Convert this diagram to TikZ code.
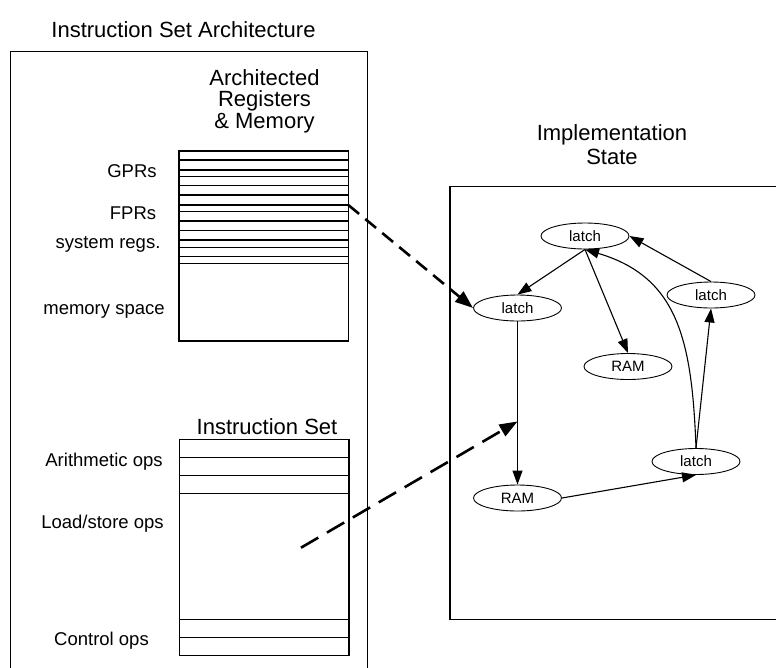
\documentclass[tikz,border=0pt]{standalone}
\usepackage{fontspec}
\setmainfont{Liberation Sans}
\usetikzlibrary{arrows.meta,calc,shapes.geometric}
\begin{document}
\begin{tikzpicture}[x=1pt,y=-1pt,
  ttl/.style={font=\fontsize{22}{24}\selectfont, inner sep=0pt, anchor=base},
  lbl/.style={font=\fontsize{18.5}{20}\selectfont, inner sep=0pt, anchor=base},
  st/.style={draw, ellipse, minimum width=88pt, minimum height=26pt, inner sep=0pt, line width=0.9pt, font=\fontsize{15}{16}\selectfont},
  box/.style={line width=1.3pt},
  reg/.style={line width=1.5pt},
  arr/.style={line width=1.1pt, -{Triangle[length=14pt,width=10pt]}},
  darr/.style={line width=2.6pt, dash pattern=on 14pt off 8pt, -{Triangle[length=18pt,width=13pt]}},
  darrb/.style={line width=2.6pt, dash pattern=on 20pt off 10pt, -{Triangle[length=18pt,width=13pt]}}
]
\path[use as bounding box] (0,0) rectangle (776,667);
\clip (0,0) rectangle (776,667);

% outer boxes
\draw[box] (10.7,690) -- (10.7,51.7) -- (367.7,51.7) -- (367.7,690);
\draw[box] (800,186.7) -- (450,186.7) -- (450,619.3) -- (800,619.3);

% titles
\node[ttl] (isa) at (183.5,37.5) {Instruction Set Architecture};
\node[ttl] (arch1) at (264.5,85) {Architected};
\node[ttl] (arch2) at (264.5,106.7) {Registers};
\node[ttl] (arch3) at (264.5,128.3) {\& Memory};
\node[ttl] (impl1) at (612,140) {Implementation};
\node[ttl] (impl2) at (612,164) {State};
\node[ttl] (iset) at (267,434.5) {Instruction Set};

% register stack
\draw[reg] (179,151) rectangle (348.3,341);
\foreach \yy in {160,170,176.7,185.7,195,205,211.7,221,230.7,240,247.7,256.7,263.3}
  \draw[reg] (179,\yy) -- (348.3,\yy);

% instruction set stack
\draw[reg] (179.3,439.3) rectangle (349,655.7);
\foreach \yy in {457.3,475.3,493.7,619.3,637.3}
  \draw[reg] (179.3,\yy) -- (349,\yy);

% labels
\node[lbl] (gpr) at (132,177) {GPRs};
\node[lbl] (fpr) at (133,219.5) {FPRs};
\node[lbl] (sys) at (108,248.5) {system regs.};
\node[lbl] (mem) at (104,314) {memory space};
\node[lbl] (ari) at (104,466.5) {Arithmetic ops};
\node[lbl] (lds) at (102.5,528) {Load/store ops};
\node[lbl] (ctl) at (101.5,645) {Control ops};

% implementation state graph
\node[st] (LT) at (585,236) {latch};
\node[st] (LL) at (517.5,308) {latch};
\node[st] (LR) at (711,295) {latch};
\node[st] (RM) at (628,366.5) {RAM};
\node[st] (RB) at (517.5,498) {RAM};
\node[st] (LB) at (696,461.5) {latch};

\draw[arr] (LT.south) -- (LL.north);
\draw[arr] (LT.south) -- (RM.north);
\draw[arr] (LR.north) -- (LT.east);
\draw[arr] (LB.north) -- (LR.south);
\draw[arr] (LB.north) .. controls (692,340) and (678,277) .. (LT.south);
\draw[arr] (LL.south) -- (RB.north);
\draw[arr] (RB.east) -- (LB.south);

% dashed mapping arrows
\coordinate (fprpt) at (348.3,205);
\coordinate (ldpt) at (301,547.7);
\coordinate (mid) at ($(LL.south)!0.613!(RB.north)$);
\draw[darr] (fprpt) -- (LL.west);
\draw[darrb] (ldpt) -- (mid);
\end{tikzpicture}
\end{document}
